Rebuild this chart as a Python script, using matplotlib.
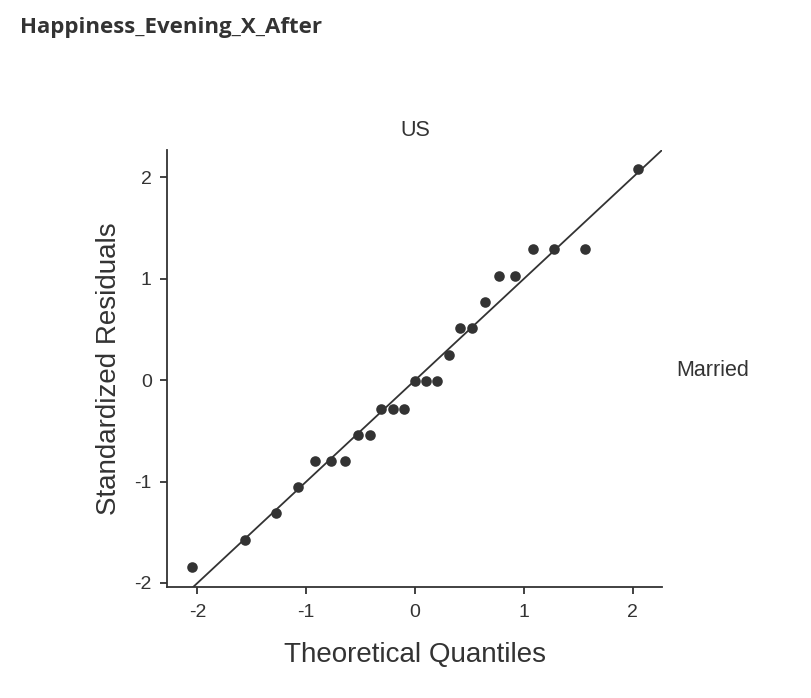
import matplotlib.pyplot as plt

# theoretical quantiles and standardized residuals
theoretical = [-2.05, -1.56, -1.28, -1.08, -0.92, -0.77, -0.64, -0.52, -0.41,
               -0.31, -0.20, -0.10, 0.00, 0.10, 0.20, 0.31, 0.41, 0.52, 0.64,
               0.77, 0.92, 1.08, 1.28, 1.56, 2.05]
residuals = [-1.84, -1.58, -1.31, -1.05, -0.80, -0.80, -0.80, -0.54, -0.54,
             -0.28, -0.28, -0.28, -0.01, -0.01, -0.01, 0.25, 0.51, 0.51, 0.77,
             1.03, 1.03, 1.29, 1.29, 1.29, 2.08]
x_ticks = [-2, -1, 0, 1, 2]
y_ticks = [-2, -1, 0, 1, 2]

plt.rcParams["font.family"] = ["Liberation Sans", "DejaVu Sans"]

fig = plt.figure(figsize=(8.12, 6.98), dpi=100)
ax = fig.add_axes([0.2057, 0.159, 0.6096, 0.626])

ax.plot([-3, 3], [-3, 3], color="#333333", linewidth=1.3, zorder=2)
ax.scatter(theoretical, residuals, s=58, color="#333333", zorder=3, linewidths=0)

ax.set_xlim(-2.28, 2.27)
ax.set_ylim(-2.04, 2.27)
ax.set_xticks(x_ticks)
ax.set_yticks(y_ticks)
ax.set_xticklabels([str(t) for t in x_ticks])
ax.set_yticklabels([str(t) for t in y_ticks])

for side in ("top", "right"):
    ax.spines[side].set_visible(False)
for side in ("left", "bottom"):
    ax.spines[side].set_color("#333333")
    ax.spines[side].set_linewidth(1.3)
ax.tick_params(direction="out", length=5, width=1.3, color="#333333",
               labelsize=14, labelcolor="#333333")
ax.tick_params(axis="x", pad=7)
ax.tick_params(axis="y", pad=6)

ax.set_xlabel("Theoretical Quantiles", fontsize=20, color="#333333", labelpad=15)
ax.set_ylabel("Standardized Residuals", fontsize=20, color="#333333", labelpad=9)

fig.text(415 / 812, 1 - 130 / 698, "US", ha="center", va="center",
         fontsize=15.5, color="#333333")
fig.text(676 / 812, 1 - 370 / 698, "Married", ha="left", va="center",
         fontsize=15.5, color="#333333")
fig.text(20 / 812, 1 - 27 / 698, "Happiness_Evening_X_After", ha="left",
         va="center", fontsize=16, fontweight="bold", color="#333333",
         family=["Open Sans", "DejaVu Sans"])

fig.savefig("out.png", dpi=100, facecolor="white")
